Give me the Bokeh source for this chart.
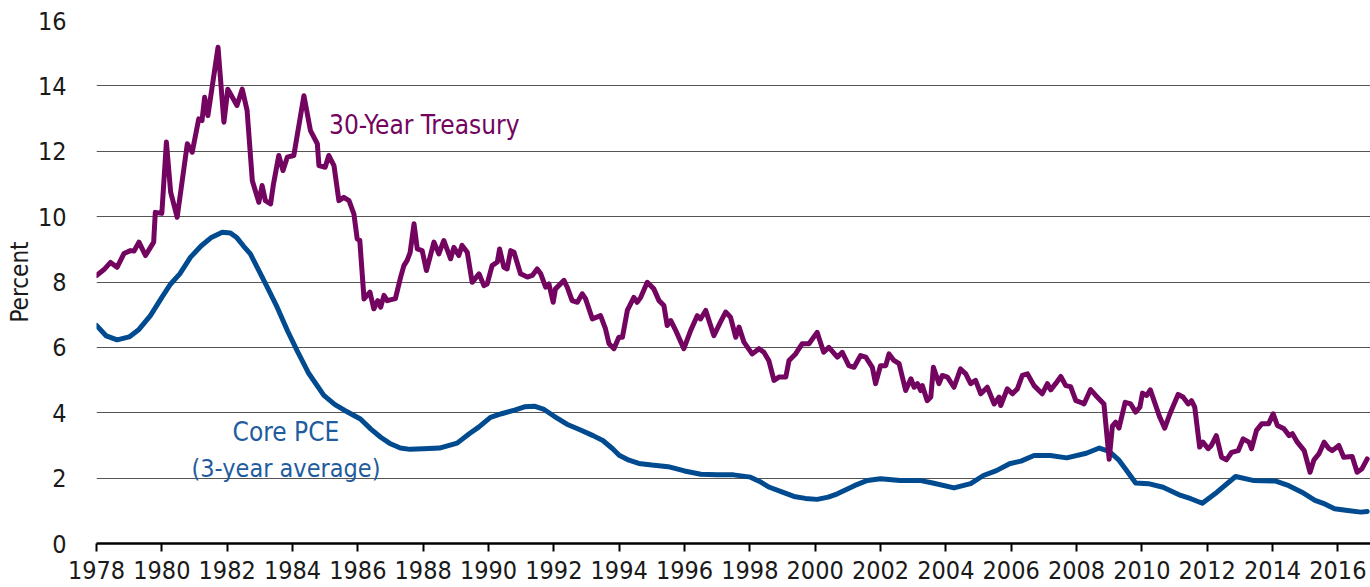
from bokeh.plotting import figure
from bokeh.models import Range1d, FixedTicker, Label
from bokeh.embed import file_html
from bokeh.resources import INLINE

FONT = "'Noto Sans Condensed', 'DejaVu Sans Condensed', sans-serif"

treasury_year = [
    1978.00, 1978.25, 1978.43, 1978.63, 1978.84, 1979.04, 1979.15, 1979.30, 1979.50, 1979.75,
    1979.80, 1980.00, 1980.14, 1980.27, 1980.47, 1980.78, 1980.93, 1981.13, 1981.23, 1981.31,
    1981.41, 1981.72, 1981.90, 1982.02, 1982.30, 1982.46, 1982.61, 1982.77, 1982.97, 1983.07,
    1983.17, 1983.33, 1983.41, 1983.58, 1983.71, 1983.84, 1984.04, 1984.35, 1984.55, 1984.76,
    1984.81, 1985.00, 1985.11, 1985.27, 1985.42, 1985.57, 1985.73, 1985.88, 1985.98, 1986.06,
    1986.19, 1986.37, 1986.49, 1986.61, 1986.70, 1986.80, 1986.90, 1987.15, 1987.31, 1987.41,
    1987.51, 1987.60, 1987.72, 1987.82, 1987.97, 1988.10, 1988.33, 1988.48, 1988.63, 1988.84,
    1988.94, 1989.09, 1989.19, 1989.35, 1989.50, 1989.71, 1989.86, 1989.96, 1990.11, 1990.27,
    1990.34, 1990.47, 1990.57, 1990.68, 1990.78, 1990.98, 1991.19, 1991.34, 1991.49, 1991.60,
    1991.75, 1991.85, 1991.98, 1992.05, 1992.31, 1992.41, 1992.56, 1992.72, 1992.87, 1992.97,
    1993.18, 1993.43, 1993.58, 1993.69, 1993.84, 1993.99, 1994.10, 1994.25, 1994.45, 1994.55,
    1994.66, 1994.86, 1995.06, 1995.22, 1995.37, 1995.47, 1995.58, 1995.73, 1995.98, 1996.19,
    1996.39, 1996.49, 1996.65, 1996.90, 1997.10, 1997.26, 1997.41, 1997.57, 1997.67, 1997.82,
    1998.07, 1998.28, 1998.43, 1998.58, 1998.74, 1998.89, 1999.10, 1999.20, 1999.40, 1999.60,
    1999.81, 2000.06, 2000.26, 2000.42, 2000.68, 2000.83, 2001.03, 2001.19, 2001.39, 2001.55,
    2001.75, 2001.85, 2002.00, 2002.16, 2002.26, 2002.41, 2002.57, 2002.77, 2002.93, 2003.03,
    2003.13, 2003.23, 2003.28, 2003.43, 2003.54, 2003.62, 2003.79, 2003.89, 2004.05, 2004.25,
    2004.45, 2004.61, 2004.76, 2004.91, 2005.07, 2005.27, 2005.48, 2005.63, 2005.68, 2005.88,
    2006.04, 2006.19, 2006.34, 2006.50, 2006.70, 2006.95, 2007.11, 2007.21, 2007.36, 2007.52,
    2007.67, 2007.82, 2007.98, 2008.13, 2008.23, 2008.43, 2008.59, 2008.84, 2009.00, 2009.10,
    2009.20, 2009.30, 2009.49, 2009.66, 2009.81, 2009.94, 2010.02, 2010.15, 2010.26, 2010.55,
    2010.70, 2010.86, 2011.11, 2011.26, 2011.42, 2011.52, 2011.62, 2011.77, 2011.87, 2012.03,
    2012.13, 2012.28, 2012.44, 2012.59, 2012.75, 2012.95, 2013.10, 2013.28, 2013.36, 2013.51,
    2013.67, 2013.88, 2014.02, 2014.15, 2014.35, 2014.51, 2014.61, 2014.76, 2014.97, 2015.15,
    2015.27, 2015.42, 2015.58, 2015.73, 2015.83, 2016.03, 2016.18, 2016.44, 2016.59, 2016.74,
    2016.90,
]
treasury_value = [
    8.20, 8.40, 8.60, 8.45, 8.87, 8.96, 8.95, 9.22, 8.81, 9.22,
    10.13, 10.10, 12.28, 10.75, 9.98, 12.23, 11.97, 12.99, 12.94, 13.65,
    13.09, 15.18, 12.89, 13.90, 13.40, 13.90, 13.25, 11.10, 10.44, 10.95,
    10.49, 10.39, 10.95, 11.87, 11.41, 11.82, 11.87, 13.70, 12.63, 12.23,
    11.56, 11.51, 11.87, 11.56, 10.49, 10.59, 10.49, 10.08, 9.32, 9.27,
    7.48, 7.69, 7.18, 7.43, 7.23, 7.59, 7.43, 7.49, 8.15, 8.50,
    8.66, 8.90, 9.78, 9.01, 8.96, 8.35, 9.22, 8.86, 9.27, 8.71,
    9.06, 8.81, 9.12, 8.91, 7.99, 8.25, 7.89, 7.94, 8.50, 8.61,
    9.01, 8.45, 8.40, 8.96, 8.91, 8.25, 8.15, 8.20, 8.40, 8.25,
    7.84, 7.94, 7.38, 7.79, 8.05, 7.84, 7.43, 7.38, 7.64, 7.49,
    6.87, 6.97, 6.57, 6.11, 5.96, 6.31, 6.31, 7.13, 7.53, 7.38,
    7.53, 7.99, 7.79, 7.43, 7.28, 6.67, 6.82, 6.52, 5.96, 6.52,
    6.97, 6.87, 7.13, 6.36, 6.77, 7.08, 6.92, 6.31, 6.62, 6.16,
    5.80, 5.96, 5.85, 5.60, 4.99, 5.09, 5.09, 5.60, 5.80, 6.11,
    6.11, 6.46, 5.85, 6.00, 5.70, 5.85, 5.44, 5.39, 5.75, 5.70,
    5.39, 4.89, 5.44, 5.44, 5.80, 5.60, 5.50, 4.68, 5.04, 4.78,
    4.89, 4.68, 4.83, 4.37, 4.48, 5.39, 4.89, 5.14, 5.09, 4.78,
    5.34, 5.19, 4.89, 4.99, 4.58, 4.78, 4.27, 4.48, 4.22, 4.73,
    4.58, 4.73, 5.14, 5.19, 4.83, 4.58, 4.89, 4.70, 4.89, 5.11,
    4.83, 4.80, 4.37, 4.32, 4.27, 4.71, 4.53, 4.27, 2.58, 3.60,
    3.71, 3.53, 4.32, 4.27, 4.02, 4.17, 4.60, 4.53, 4.70, 3.86,
    3.53, 3.97, 4.56, 4.48, 4.27, 4.37, 4.17, 2.95, 3.10, 2.90,
    3.00, 3.30, 2.64, 2.56, 2.79, 2.84, 3.20, 3.10, 2.90, 3.46,
    3.66, 3.66, 3.97, 3.61, 3.51, 3.30, 3.36, 3.10, 2.84, 2.18,
    2.56, 2.74, 3.10, 2.90, 2.84, 3.00, 2.64, 2.66, 2.18, 2.29,
    2.59,
]

pce_year = [
    1978.00, 1978.30, 1978.63, 1979.00, 1979.30, 1979.65, 1980.00, 1980.27, 1980.55, 1980.88,
    1981.20, 1981.50, 1981.85, 1982.10, 1982.30, 1982.50, 1982.71, 1982.92, 1983.20, 1983.53,
    1983.85, 1984.14, 1984.50, 1984.96, 1985.30, 1985.60, 1986.08, 1986.40, 1986.70, 1987.00,
    1987.30, 1987.60, 1988.00, 1988.50, 1989.04, 1989.40, 1989.70, 1990.06, 1990.40, 1990.80,
    1991.10, 1991.40, 1991.70, 1992.00, 1992.40, 1992.80, 1993.20, 1993.50, 1993.80, 1994.00,
    1994.30, 1994.60, 1995.00, 1995.50, 1996.00, 1996.50, 1997.00, 1997.50, 1998.02, 1998.30,
    1998.60, 1999.00, 1999.35, 1999.70, 2000.06, 2000.40, 2000.68, 2001.20, 2001.60, 2002.00,
    2002.60, 2003.20, 2003.60, 2004.25, 2004.76, 2005.15, 2005.55, 2005.95, 2006.30, 2006.70,
    2007.20, 2007.70, 2008.30, 2008.70, 2009.00, 2009.30, 2009.50, 2009.81, 2010.20, 2010.65,
    2011.19, 2011.50, 2011.85, 2012.30, 2012.87, 2013.40, 2014.10, 2014.50, 2014.90, 2015.30,
    2015.60, 2015.90, 2016.30, 2016.70, 2016.90,
]
pce_value = [
    6.67, 6.35, 6.23, 6.32, 6.55, 6.97, 7.53, 7.94, 8.25, 8.76,
    9.10, 9.35, 9.52, 9.50, 9.35, 9.10, 8.86, 8.45, 7.90, 7.23,
    6.50, 5.90, 5.20, 4.53, 4.25, 4.07, 3.81, 3.50, 3.25, 3.05,
    2.92, 2.88, 2.90, 2.92, 3.07, 3.35, 3.56, 3.86, 3.97, 4.08,
    4.18, 4.20, 4.10, 3.90, 3.65, 3.48, 3.30, 3.15, 2.90, 2.70,
    2.55, 2.45, 2.40, 2.35, 2.22, 2.12, 2.10, 2.10, 2.03, 1.90,
    1.72, 1.57, 1.44, 1.38, 1.35, 1.42, 1.52, 1.77, 1.93, 1.98,
    1.93, 1.93, 1.85, 1.70, 1.83, 2.08, 2.23, 2.44, 2.52, 2.69,
    2.69, 2.62, 2.76, 2.92, 2.82, 2.55, 2.28, 1.85, 1.83, 1.72,
    1.47, 1.37, 1.23, 1.57, 2.05, 1.93, 1.91, 1.77, 1.57, 1.32,
    1.21, 1.06, 1.01, 0.96, 0.98,
]

x_ticks = list(range(1978, 2017, 2))
y_ticks = list(range(0, 17, 2))

PURPLE = "#730460"
BLUE = "#004a8f"
TEXT = "#1a1a1a"

p = figure(width=1370, height=587, x_range=Range1d(1978, 2017), y_range=Range1d(0, 16),
           output_backend="svg", toolbar_location=None,
           min_border_left=96, min_border_right=0, min_border_top=20, min_border_bottom=44)
p.outline_line_color = None
p.background_fill_color = "white"

p.xgrid.grid_line_color = None
p.ygrid.grid_line_color = "#555555"
p.ygrid.grid_line_width = 1.2
p.ygrid.ticker = FixedTicker(ticks=y_ticks)

p.xaxis.ticker = FixedTicker(ticks=x_ticks)
p.xaxis.axis_line_color = "black"
p.xaxis.axis_line_width = 2.5
p.xaxis.major_tick_line_color = "black"
p.xaxis.major_tick_line_width = 2
p.xaxis.major_tick_out = 8
p.xaxis.major_tick_in = 0
p.xaxis.minor_tick_line_color = None
p.xaxis.major_label_standoff = 9
p.xaxis.major_label_text_font = FONT
p.xaxis.major_label_text_font_size = "25px"
p.xaxis.major_label_text_color = TEXT

p.yaxis.ticker = FixedTicker(ticks=y_ticks)
p.yaxis.axis_line_color = None
p.yaxis.major_tick_line_color = None
p.yaxis.minor_tick_line_color = None
p.yaxis.major_label_standoff = 24
p.yaxis.major_label_text_font = FONT
p.yaxis.major_label_text_font_size = "25px"
p.yaxis.major_label_text_color = TEXT
p.yaxis.axis_label = "Percent"
p.yaxis.axis_label_text_font = FONT
p.yaxis.axis_label_text_font_size = "24px"
p.yaxis.axis_label_text_font_style = "normal"
p.yaxis.axis_label_text_color = TEXT
p.yaxis.axis_label_standoff = 1

p.line(pce_year, pce_value, line_color=BLUE, line_width=5, line_join="round", line_cap="round")
p.line(treasury_year, treasury_value, line_color=PURPLE, line_width=5, line_join="round", line_cap="round")

p.add_layout(Label(x=1985.12, y=12.8, text="30-Year Treasury", text_color=PURPLE,
                   text_font=FONT, text_font_size="26px", text_baseline="middle", text_align="left"))
p.add_layout(Label(x=1983.8, y=3.4, text="Core PCE", text_color="#1f5c9e",
                   text_font=FONT, text_font_size="26px", text_baseline="middle", text_align="center"))
p.add_layout(Label(x=1983.8, y=2.3, text="(3-year average)", text_color="#1f5c9e",
                   text_font=FONT, text_font_size="25px", text_baseline="middle", text_align="center"))

open("out.html", "w").write(file_html(p, INLINE))
